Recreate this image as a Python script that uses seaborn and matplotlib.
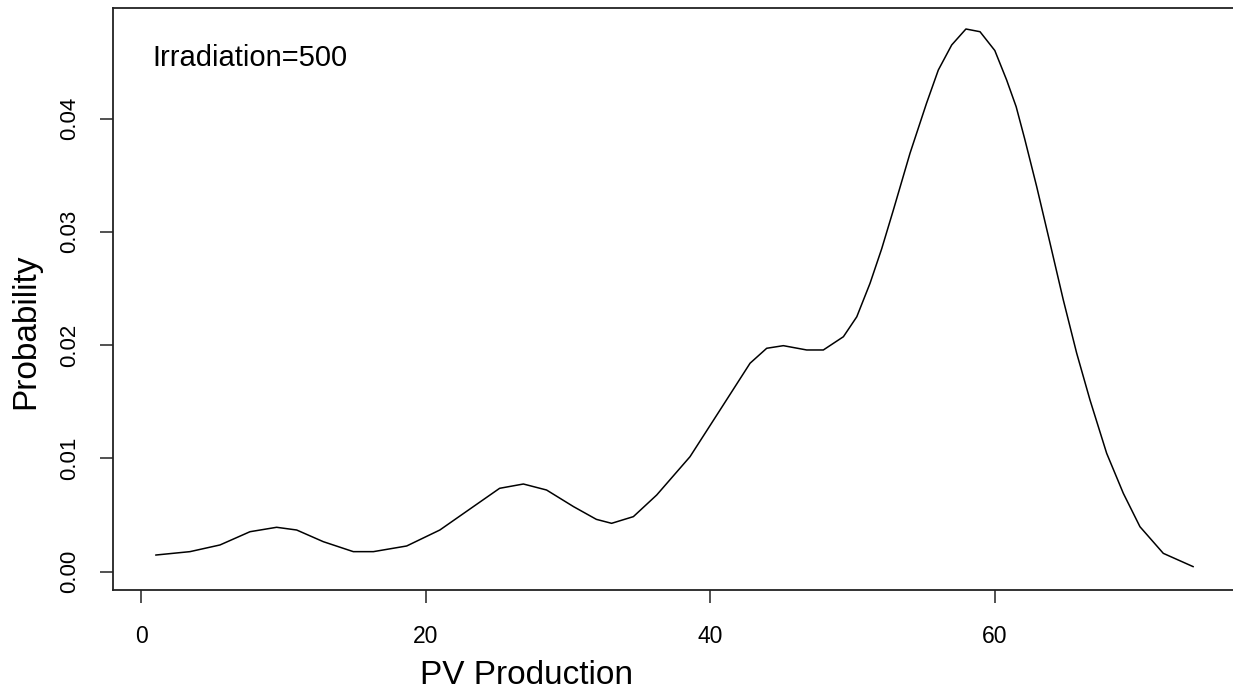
import matplotlib
matplotlib.use("Agg")
import matplotlib.pyplot as plt
import seaborn as sns
import pandas as pd

# Data (kernel density of PV production)
pv_production = [1.03, 3.44, 5.55, 7.66, 9.53, 10.94, 12.81, 14.92, 16.33, 18.67,
                 21.0, 23.35, 25.2, 26.87, 28.5, 30.4, 32.0, 33.07, 34.6, 36.24,
                 38.58, 40.69, 42.8, 43.97, 45.14, 46.78, 47.95, 49.36, 50.3, 51.23,
                 52.05, 52.87, 54.04, 55.2, 56.03, 56.97, 57.97, 58.96, 60.0, 60.83,
                 61.5, 62.1, 62.94, 63.88, 64.81, 65.75, 66.69, 67.86, 69.03, 70.2,
                 71.84, 73.95]
probability = [0.00147, 0.00177, 0.00236, 0.00353, 0.00392, 0.00368, 0.00265, 0.00177, 0.00177, 0.00227,
               0.00368, 0.00574, 0.00736, 0.00774, 0.00721, 0.00574, 0.00462, 0.00427, 0.00486, 0.00677,
               0.01015, 0.01427, 0.0184, 0.01972, 0.01995, 0.01957, 0.01957, 0.02074, 0.0225, 0.02545,
               0.0285, 0.03192, 0.03693, 0.04134, 0.04428, 0.04649, 0.04790, 0.04766, 0.0460, 0.0434,
               0.04104, 0.0382, 0.0340, 0.0290, 0.0240, 0.0193, 0.01515, 0.01045, 0.00692, 0.00397,
               0.00162, 0.00044]
x_ticks = [0, 20, 40, 60]
y_ticks = [0.00, 0.01, 0.02, 0.03, 0.04]
y_tick_labels = ["0.00", "0.01", "0.02", "0.03", "0.04"]
annotation = "Irradiation=500"
x_label = "PV Production"
y_label = "Probability"

sns.set_theme(style="ticks")
plt.rcParams["font.family"] = ["Liberation Sans", "DejaVu Sans"]

W, H = 1233, 695
fig = plt.figure(figsize=(W / 100, H / 100), dpi=100)
fig.patch.set_facecolor("white")
# axes box in pixels: left 113, right 1240 (cropped), top 8, bottom 590
left, right, top, bottom = 113, 1240, 8, 590
ax = fig.add_axes([left / W, (H - bottom) / H, (right - left) / W, (bottom - top) / H])
ax.set_facecolor("white")

df = pd.DataFrame({"x": pv_production, "y": probability})
sns.lineplot(data=df, x="x", y="y", ax=ax, color="black", linewidth=1.1, sort=False)

ax.set_xlim(-1.968, 77.23)
ax.set_ylim(-0.001615, 0.049753)

ax.set_xticks(x_ticks)
ax.set_xticklabels([str(t) for t in x_ticks])
ax.set_yticks(y_ticks)
ax.set_yticklabels(y_tick_labels, rotation=90, va="center")

for s in ax.spines.values():
    s.set_color("#222222")
    s.set_linewidth(1.3)

ax.tick_params(axis="x", length=9.4, width=1.1, color="#222222", labelsize=16.5, pad=15.5, labelcolor="black")
ax.tick_params(axis="y", length=9.4, width=1.1, color="#222222", labelsize=16, pad=14.0, labelcolor="black")

ax.set_xlabel(x_label, fontsize=24, color="black")
ax.set_ylabel(y_label, fontsize=24, color="black")
ax.xaxis.label.set_va("baseline")
ax.yaxis.label.set_va("baseline")
ax.xaxis.set_label_coords((526 - left) / (right - left), (bottom - 684) / (bottom - top))
ax.yaxis.set_label_coords((34 - left) / (right - left), (bottom - 331) / (bottom - top))

ax.text((152 - left) / (right - left), (bottom - 66) / (bottom - top), annotation,
        transform=ax.transAxes, fontsize=21, color="black", ha="left", va="baseline")

fig.savefig("out.png", dpi=100, facecolor="white")
